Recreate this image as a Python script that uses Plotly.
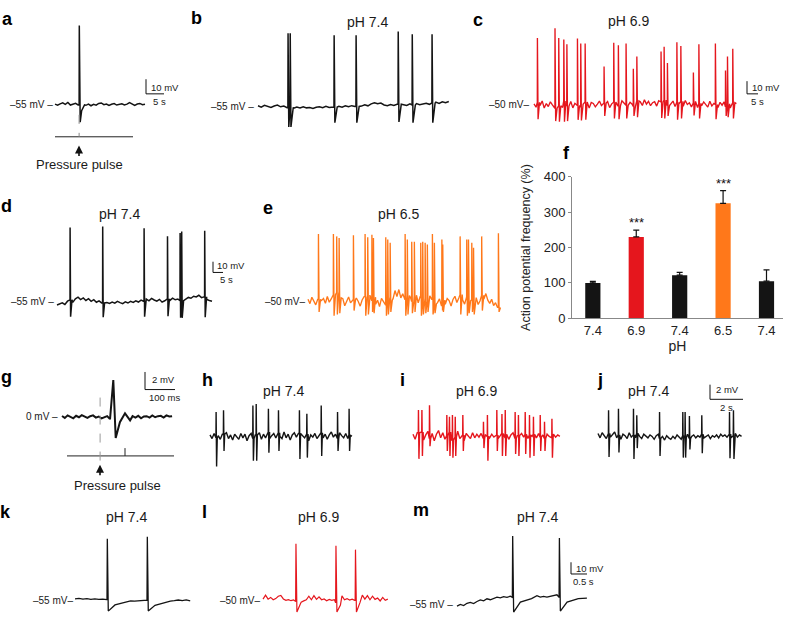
import numpy as np
import plotly.graph_objects as go

W, H = 788, 622
FONT = "Liberation Sans, Arial, Helvetica, sans-serif"
BLACK = "#141414"
RED = "#e5161d"
ORANGE = "#ff781a"

# ---------------- data (time in s, or ms for g; voltage in mV) ----------------
A_DUR, A_REST = 25.0, -55
A_BASE = [0.3,-0.4,0.5,1.2,0.2,1.5,-0.3,0.4,0.9,-0.2,0.6,0.1,-0.5,0.3,-0.8,0.2,-0.4,0.8,
          1.1,-0.1,0.4,-0.6,0.2,0.7,-0.3,0.1,0.6,-0.2,0.3,1.4,0.2,-0.5,0.4,0.8,-0.1,0.3]
A_SPK_T, A_SPK_PEAK, A_SPK_TROUGH = [6.7], [-1.0], [-67.0]
A_PULSE_T = 6.7

B_DUR, B_REST = 53.0, -55
B_BASE = [0.5,-0.4,0.8,0.2,-0.6,0.4,1.0,-0.2,0.3,-0.8,-0.5,-1.2,-0.4,-1.0,-0.2,-0.9,-0.6,-1.3,
          -0.5,-0.2,-0.8,0.1,-0.7,-0.3,-0.9,0.2,-0.4,0.5,-0.2,0.6,0.1,0.9,0.3,1.2,0.5,1.8,2.6,
          1.9,2.4,1.1,0.6,1.4,0.8,1.6,0.4,1.3,0.7,1.8,1.0,2.0,1.2,1.7,2.2,1.5,2.4,3.0,2.1,3.2,2.6,3.4]
B_SPK_T = [8.3, 8.9, 21.1, 27.2, 38.9, 42.8, 48.3]
B_SPK_PEAK = [-5.0, -5.0, -6.3, -6.3, -3.7, -5.7, -5.7]
B_SPK_TROUGH = [-69.0, -69.0, -66.0, -66.0, -65.5, -66.0, -66.0]

C_DUR, C_REST = 92.0, -50
C_BASE = [0.5,-2.1,1.8,-0.6,2.9,-2.7,0.8,-1.5,2.2,-0.3,-2.9,1.6,-0.9,1.1,-2.2,2.7,-1.2,0.3,2.4,-2.6,
          1.0,-0.7,3.1,-1.9,0.2,2.0,-1.1,-2.8,1.7,0.9,-1.8,0.4,2.8,-0.8,1.3,-1.6,2.5,-2.4,0.6,1.9,
          3.4,-0.9,0.7,2.9,1.2,-0.6,3.6,1.8,0.3,-1.4,2.9,1.1,2.2,-0.7,3.8,0.4,2.6,-0.9,1.5,2.3,
          -1.2,3.1,2.0,0.2,3.5,-0.8,1.7,0.6,2.8,-1.6,1.9,0.8,2.6,-1.3,3.2,0.1,1.4,-1.8,1.2,2.5,
          -2.3,1.0,-0.9,2.1,0.3,-2.0,2.6,-1.1,0.9,0.0,-2.4,1.8,-0.5,2.2,-1.7,0.6,-2.6,1.5,-0.4,0.8]
C_SPK_T = [1.5, 9.5, 11.2, 13.5, 14.9, 19.7, 21.2, 23.2, 31.8, 36.2, 38.3, 41.8, 45.1, 46.7,
           57.7, 59.1, 60.6, 64.9, 66.7, 72.4, 74.9, 82.4, 87.0, 87.9, 90.3]
C_SPK_PEAK = [2.5, 10.2, 2.5, 1.3, -2.5, 2.0, -1.8, -1.8, -20.0, -1.3, -3.3, -1.8, -21.8, -12.1,
              -8.2, -4.4, -17.2, -0.8, -3.8, -24.8, -2.5, -1.8, -23.1, -12.1, -5.9]
C_SPK_TROUGH = [-61.5, -63.0, -63.5, -63.5, -63.0, -62.0, -62.5, -62.0, -59.0, -61.0, -61.5, -61.0,
                -59.0, -60.0, -60.5, -61.0, -59.0, -62.0, -61.0, -58.5, -61.0, -61.5, -59.0, -60.0, -61.0]

D_DUR, D_REST = 77.5, -55
D_BASE = [-3.0,-2.2,-1.0,-2.5,0.5,1.8,-0.6,2.7,4.2,2.0,3.5,1.2,2.8,0.4,1.9,-0.5,0.8,-1.1,0.2,-0.8,
          -1.6,-0.4,-1.3,0.3,-0.9,-1.8,-0.2,-1.2,0.4,-0.6,0.9,-0.3,1.5,0.2,2.4,0.8,3.1,1.6,0.5,2.2,
          -0.4,0.9,2.6,1.2,3.4,1.8,2.5,0.9,3.0,2.2,4.0,3.2,5.1,4.4,6.0,3.8,4.6,2.0,1.2,0.5]
D_SPK_T = [6.5, 22.8, 43.5, 55.2, 61.5, 62.3, 73.8]
D_SPK_PEAK = [14.1, 15.0, 13.5, 5.9, 8.9, 10.5, 11.1]
D_SPK_TROUGH = [-69.0, -69.5, -69.0, -68.5, -70.0, -70.0, -69.5]

E_DUR, E_REST = 87.0, -50
E_BASE = [2.0,-1.5,3.5,0.5,-2.5,1.8,-3.6,0.9,2.6,-1.2,4.1,-0.4,2.2,5.5,1.0,7.2,3.1,-1.8,2.4,-3.2,
          0.6,3.8,-0.9,1.7,-2.8,2.9,0.2,-3.5,1.4,4.0,-1.1,2.3,5.2,0.8,3.6,-2.0,1.2,-3.8,2.7,0.4,
          -2.6,3.3,1.1,6.5,2.4,8.8,4.1,9.6,3.0,6.2,1.5,4.8,-1.4,3.4,0.2,5.1,2.6,-0.8,3.9,1.6,
          -2.3,2.8,0.5,4.6,1.9,-1.6,3.0,-0.7,2.2,-3.1,1.3,-2.0,2.5,0.9,-3.4,1.8,4.3,-0.6,2.9,5.6,
          1.4,-1.9,3.7,0.7,-2.7,1.6,-0.4,3.2,-2.2,0.8,5.0,2.1,6.4,1.2,-1.3,2.0,-3.0,-0.8,-4.5,-6.0]
E_SPK_T = [4.7, 11.5, 13.0, 14.1, 20.6, 25.9, 27.1, 29.0, 29.7, 35.3, 36.2, 37.3, 44.1, 45.1, 47.1,
           48.3, 51.2, 52.1, 53.2, 54.2, 56.5, 57.4, 60.8, 61.2, 69.1, 72.1, 72.9, 74.4, 75.2, 78.9, 86.5]
E_SPK_PEAK = [3.3, 3.3, 1.5, 0.2, 2.3, 3.3, 0.8, 2.8, 0.2, 0.8, -1.0, -3.6, 3.3, -1.0, -2.8, -2.8,
              -3.6, -2.8, -3.6, -4.9, 3.3, -3.6, -1.0, -4.9, 1.5, -1.0, -1.0, -3.6, -7.5, 1.5, 4.0]
E_SPK_TROUGH = [-58, -61, -60, -59, -57, -61, -60, -58, -59, -61, -60, -58, -61, -60, -59, -58,
                -61, -60, -59, -58, -60, -59, -57, -58, -60, -61, -59, -58, -60, -57, -58]

F_CATS = ["7.4", "6.9", "7.4", "6.5", "7.4"]
F_VALUES = [100, 230, 122, 325, 105]
F_ERR = [4.6, 19, 8, 36, 32]
F_SIG = ["", "***", "", "***", ""]

G_DUR, G_REST = 367.0, 0.0   # ms, mV
G_BASE = [0.1,-0.12,0.17,0.04,-0.17,0.12,-0.04,0.2,0.0,-0.12,0.08,0.17,-0.08,0.04,-0.17,-0.08,0.08,-0.25,
          -0.08,0.0,0.08,-0.17,0.08,0.0,-0.08,0.08,-0.08,0.12,-0.17,0.04,0.08,-0.08,0.17,-0.04,0.08,0.12,-0.08,
          0.17,0.04,0.08]
G_EV_T = [160, 171, 179, 193, 210, 227]
G_EV_V = [-0.3, 4.2, -2.4, -0.6, 0.4, -0.4]
G_PULSE_T = 127

H_DUR = 8.6
H_BASE = [0.2,-0.3,0.4,-0.2,0.1,-0.4,0.3,-0.1,0.5,-0.3,0.2,-0.5,0.3,0.0,-0.4,0.4,-0.2,0.3,-0.6,0.1,
          0.4,-0.3,0.2,-0.1,0.5,-0.4,0.3,-0.2,0.6,-0.3,0.1,0.4,-0.2,0.5,0.0,-0.3,0.6,-0.2,0.3,-0.5,
          0.2,0.5,-0.1,0.4,-0.4,0.1,-0.2,0.3,-0.6,0.2,-0.1,0.4,-0.3,0.1,0.5,-0.2,0.3,-0.4,0.2,0.6,
          -0.1,0.3,-0.3,0.5,0.1,-0.2,0.4,-0.3,0.2,0.0]
H_SPK_T = [0.36, 0.81, 2.59, 2.79, 3.53, 4.14, 5.41, 5.86, 6.73, 7.72, 8.42]
H_SPK_PEAK = [3.33, 3.56, 4.23, 4.44, 3.77, 3.56, 3.56, 3.1, 4.23, 3.33, 3.77]
H_SPK_TROUGH = [-4.1, -2.0, -3.33, -3.33, -2.23, -2.0, -3.1, -2.9, -2.67, -2.0, -2.0]

I_DUR = 8.9
I_BASE = [0.3,-0.4,0.5,-0.2,0.6,-0.5,0.2,0.7,-0.3,0.4,-0.6,0.3,0.8,-0.2,0.5,-0.4,0.1,0.6,-0.5,0.3,
          -0.1,0.7,-0.3,0.2,-0.6,0.4,0.1,-0.3,0.5,-0.2,0.3,-0.1,0.4,-0.3,0.2,0.0,-0.2,0.3,-0.1,0.2,
          -0.3,0.1,0.4,-0.2,0.3,-0.4,0.2,0.5,-0.3,0.1,-0.2,0.4,-0.1,0.3,-0.3,0.2,0.0,0.3,-0.2,0.4,
          -0.1,0.2,-0.3,0.3,0.0,-0.2,0.3,-0.1,0.2,0.0]
I_SPK_T = [0.32, 0.53, 0.99, 2.04, 2.2, 2.38, 2.55, 3.01, 4.26, 4.5, 5.07, 5.38, 5.58, 6.18, 6.38,
           6.79, 7.05, 7.29, 7.7, 7.96, 8.41]
I_SPK_PEAK = [3.6, 3.6, 4.27, 2.93, 2.67, 2.93, 2.67, 2.93, 2.0, 2.93, 3.6, 3.07, 3.6, 3.33, 2.93,
              3.33, 2.93, 2.67, 2.93, 2.0, 2.4]
I_SPK_TROUGH = [-3.07, -2.67, -1.33, -2.0, -2.67, -2.93, -2.67, -2.0, -1.6, -3.33, -2.0, -2.67,
                -2.67, -2.4, -2.67, -2.4, -2.93, -2.67, -2.0, -2.0, -2.93]

J_DUR = 8.7
J_BASE = [0.4,-0.2,0.5,0.1,-0.3,0.4,-0.1,0.3,0.6,-0.2,0.2,-0.4,0.3,0.1,-0.3,0.5,-0.1,0.2,-0.2,0.4,
          0.0,-0.3,0.3,0.1,-0.2,0.2,0.0,-0.4,0.1,0.3,-0.3,0.0,-0.5,0.1,-0.2,-0.4,0.0,-0.3,0.2,-0.1,
          -0.4,0.1,-0.2,0.3,-0.3,0.0,0.2,-0.2,0.1,-0.1,0.3,-0.2,0.0,0.2,-0.3,0.1,-0.1,0.2,-0.2,0.3,
          0.0,0.2,-0.1,0.3,-0.2,0.1,0.4,-0.1,0.2,0.0]
J_SPK_T = [0.63, 1.23, 2.14, 2.34, 3.72, 5.13, 5.27, 5.53, 6.28, 7.96, 8.2]
J_SPK_PEAK = [3.56, 3.77, 3.77, 2.9, 3.33, 3.33, 3.33, 2.8, 2.9, 3.33, 3.56]
J_SPK_TROUGH = [-2.8, -2.2, -3.1, -1.6, -2.67, -2.9, -2.9, -1.8, -2.3, -3.0, -3.1]

K_DUR, K_REST = 3.6, -55
K_BASE = [1.2,1.6,1.0,1.4,0.9,1.3,0.8,1.1,0.6,-3.0,-2.5,-2.0,-1.5,-1.0,-0.5,-0.6,-0.2,-0.4,0.2,
          -3.0,-2.5,-2.0,-1.5,-1.2,-0.6,-0.2,0.3,-0.3,0.4,-0.5]
K_SPK_T, K_SPK_PEAK, K_SPK_TROUGH = [1.0, 2.25], [-2.5, -0.8], [-64.2, -64.2]

L_DUR, L_REST = 3.9, -50
L_BASE = [1.0,4.5,1.0,2.5,0.5,1.5,3.5,4.2,1.2,0.0,0.6,-0.3,0.4,-1.0,-2.0,-1.5,-0.5,0.5,3.5,0.5,
          4.0,0.8,3.0,0.5,1.2,-0.3,0.8,0.0,0.6,-2.0,-1.0,3.8,0.5,1.5,0.2,1.0,0.0,-2.0,-0.5,4.5,
          1.0,4.0,0.5,3.5,0.8,2.0,-0.5,2.5,0.0,1.0]
L_SPK_T, L_SPK_PEAK, L_SPK_TROUGH = [1.02, 2.27, 2.88], [-1.7, -3.3, -6.7], [-60.0, -60.0, -60.0]

M_DUR, M_REST = 4.06, -55
M_BASE = [-7.5,-6.0,-7.0,-5.0,-4.2,-5.2,-3.5,-2.2,-3.0,-1.2,-2.0,-0.6,0.2,-0.4,0.6,0.0,1.0,0.0,0.0,
          0.0,0.0,0.0,0.0,0.0,1.5,0.2,0.8,0.3,1.0,1.6,2.2,0.0,0.0,0.0,0.0,0.0,0.0,-0.8,-0.3,-0.6]
M_SPK_T, M_SPK_PEAK, M_SPK_TROUGH = [1.73, 3.19], [-2.5, -4.2], [-67.5, -66.7]

# ---------------- layout geometry: x0_px, px per x-unit, baseline_px, px per mV, rest ----------------
GEOM = {
    "a": (55, 3.6, 100, 1.5, A_REST),
    "b": (258, 3.6, 102, 1.5, B_REST),
    "c": (534, 2.2, 100, 1.3, C_REST),
    "d": (57, 2.0, 302, 1.1, D_REST),
    "e": (308, 2.2, 302, 1.3, E_REST),
    "g": (62, 0.3, 420, 9.0, G_REST),
    "h": (210, 16.5, 440, 7.5, 0.0),
    "i": (413, 16.5, 440, 7.5, 0.0),
    "j": (598, 16.5, 440, 7.5, 0.0),
    "k": (75, 32.0, 608, 1.2, K_REST),
    "l": (263, 32.0, 608, 1.2, L_REST),
    "m": (457, 32.0, 605, 1.2, M_REST),
}
ORDER = ["a", "b", "c", "d", "e", "g", "h", "i", "j", "k", "l", "m"]
IDX = {p: i + 1 for i, p in enumerate(ORDER)}
F_IDX = 13


def axname(i, kind):
    return kind if i == 1 else f"{kind}{i}"


def px2data(p, px, py):
    x0, sx, yb, sy, rest = GEOM[p]
    return (px - x0) / sx, rest + (yb - py) / sy


def build_trace(dur, base, rest, spk_t, spk_pk, spk_tr, d_pk, d_tr, after):
    ts = np.linspace(0, dur, len(base))
    win = max(a[0] for a in after)
    pts = []
    for t, v in zip(ts, base):
        if any(s - 1e-9 <= t <= s + win for s in spk_t):
            continue
        pts.append((t, rest + v))
    for k, s in enumerate(spk_t):
        i = int(np.argmin(np.abs(ts - s)))
        b = rest + base[i]
        nxt = spk_t[k + 1] if k + 1 < len(spk_t) else np.inf
        cand = [(s, b), (s + d_pk, spk_pk[k]), (s + d_tr, spk_tr[k])] + \
               [(s + dt, b + dv) for dt, dv in after]
        pts += [q for q in cand if q[0] < nxt - 1e-9]
    pts.sort()
    return [q[0] for q in pts], [q[1] for q in pts]


fig = go.Figure()
layout = {}

for p in ORDER:
    i = IDX[p]
    x0, sx, yb, sy, rest = GEOM[p]
    layout[axname(i, "xaxis")] = dict(domain=[0, 1], range=[-x0 / sx, (W - x0) / sx], visible=False,
                                      fixedrange=True, anchor=axname(i, "y"))
    layout[axname(i, "yaxis")] = dict(domain=[0, 1], range=[rest - (H - yb) / sy, rest + yb / sy],
                                      visible=False, fixedrange=True, anchor=axname(i, "x"))

TRACES = {
    "a": (A_DUR, A_BASE, A_REST, A_SPK_T, A_SPK_PEAK, A_SPK_TROUGH, 0.05, 0.3, [(0.7, -4.0), (1.5, 0.0)], BLACK, 1.5),
    "b": (B_DUR, B_BASE, B_REST, B_SPK_T, B_SPK_PEAK, B_SPK_TROUGH, 0.05, 0.25, [(0.9, 0.0)], BLACK, 1.5),
    "c": (C_DUR, C_BASE, C_REST, C_SPK_T, C_SPK_PEAK, C_SPK_TROUGH, 0.05, 0.35, [(1.0, 0.0)], RED, 1.35),
    "d": (D_DUR, D_BASE, D_REST, D_SPK_T, D_SPK_PEAK, D_SPK_TROUGH, 0.05, 0.3, [(1.0, 0.0)], BLACK, 1.5),
    "e": (E_DUR, E_BASE, E_REST, E_SPK_T, E_SPK_PEAK, E_SPK_TROUGH, 0.05, 0.35, [(1.0, 0.0)], ORANGE, 1.35),
    "h": (H_DUR, H_BASE, 0.0, H_SPK_T, H_SPK_PEAK, H_SPK_TROUGH, 0.01, 0.04, [(0.08, 0.0)], BLACK, 1.4),
    "i": (I_DUR, I_BASE, 0.0, I_SPK_T, I_SPK_PEAK, I_SPK_TROUGH, 0.01, 0.04, [(0.08, 0.0)], RED, 1.4),
    "j": (J_DUR, J_BASE, 0.0, J_SPK_T, J_SPK_PEAK, J_SPK_TROUGH, 0.01, 0.04, [(0.08, 0.0)], BLACK, 1.4),
    "k": (K_DUR, K_BASE, K_REST, K_SPK_T, K_SPK_PEAK, K_SPK_TROUGH, 0.01, 0.04, [(0.25, -4.5), (0.6, -2.0)], BLACK, 1.3),
    "l": (L_DUR, L_BASE, L_REST, L_SPK_T, L_SPK_PEAK, L_SPK_TROUGH, 0.01, 0.04, [(0.15, -2.0)], RED, 1.2),
    "m": (M_DUR, M_BASE, M_REST, M_SPK_T, M_SPK_PEAK, M_SPK_TROUGH, 0.01, 0.04, [(0.25, -4.0), (0.6, -1.0)], BLACK, 1.3),
}
for p, (dur, base, rest, st, sp, str_, dpk, dtr, after, col, lw) in TRACES.items():
    x, y = build_trace(dur, base, rest, st, sp, str_, dpk, dtr, after)
    i = IDX[p]
    fig.add_trace(go.Scatter(x=x, y=y, mode="lines", line=dict(color=col, width=lw),
                             xaxis=axname(i, "x"), yaxis=axname(i, "y"), hoverinfo="skip"))

# panel g: evoked field response
gt = np.linspace(0, G_DUR, len(G_BASE))
gpts = [(t, G_REST + v) for t, v in zip(gt, G_BASE) if not (G_EV_T[0] <= t <= G_EV_T[-1] + 8)]
gpts += list(zip(G_EV_T, [G_REST + v for v in G_EV_V]))
gpts.sort()
fig.add_trace(go.Scatter(x=[q[0] for q in gpts], y=[q[1] for q in gpts], mode="lines",
                         line=dict(color=BLACK, width=2.0), xaxis=axname(IDX["g"], "x"),
                         yaxis=axname(IDX["g"], "y"), hoverinfo="skip"))

# panel f: bar chart
fcols = [BLACK, RED, BLACK, ORANGE, BLACK]
fig.add_trace(go.Bar(x=list(range(len(F_CATS))), y=F_VALUES, width=0.35, marker=dict(color=fcols, line=dict(width=0)),
                     error_y=dict(type="data", array=F_ERR, arrayminus=[0] * len(F_ERR), symmetric=False,
                                  color="#111", thickness=1.2, width=3),
                     xaxis=axname(F_IDX, "x"), yaxis=axname(F_IDX, "y"), hoverinfo="skip"))
layout[axname(F_IDX, "xaxis")] = dict(domain=[572 / W, 783 / W], range=[-0.48, 4.38], anchor=axname(F_IDX, "y"),
                                      tickmode="array", tickvals=list(range(len(F_CATS))), ticktext=F_CATS,
                                      showline=True, linecolor="#888", linewidth=1, ticks="",
                                      tickfont=dict(size=13, color="#222", family=FONT), showgrid=False,
                                      zeroline=False, fixedrange=True,
                                      title=dict(text="pH", font=dict(size=14, color="#222", family=FONT), standoff=4))
layout[axname(F_IDX, "yaxis")] = dict(domain=[1 - 319 / H, 1 - 174 / H], range=[0, 400], anchor=axname(F_IDX, "x"),
                                      tickvals=[0, 100, 200, 300, 400], ticks="outside", ticklen=3, tickcolor="#888",
                                      showline=True, linecolor="#888", linewidth=1, showgrid=False, zeroline=False,
                                      tickfont=dict(size=13, color="#222", family=FONT), fixedrange=True,
                                      title=dict(text="Action potential frequency (%)",
                                                 font=dict(size=12.5, color="#222", family=FONT), standoff=10))

annotations = []
shapes = []


def ann(text, px, py, size, xanchor="center", bold=False, color="#1a1a1a"):
    annotations.append(dict(text=f"<b>{text}</b>" if bold else text, x=px / W, y=1 - py / H, xref="paper",
                            yref="paper", xanchor=xanchor, yanchor="middle", showarrow=False,
                            font=dict(size=size, color=color, family=FONT)))


for t, x, y in [("a", 7, 12), ("b", 196, 11), ("c", 478, 13), ("d", 6, 204), ("e", 268, 206),
                ("f", 566, 150), ("g", 6, 379), ("h", 207, 382), ("i", 403, 382), ("j", 600, 382),
                ("k", 5, 517), ("l", 205, 517), ("m", 421, 515)]:
    ann(t, x, y, 18, bold=True, color="#000")

for t, x, y in [("pH 7.4", 367, 15), ("pH 6.9", 628, 14), ("pH 7.4", 119, 212), ("pH 6.5", 398, 212),
                ("pH 7.4", 283, 393), ("pH 6.9", 476, 393), ("pH 7.4", 648, 393),
                ("pH 7.4", 126, 523), ("pH 6.9", 318, 523), ("pH 7.4", 537, 523)]:
    ann(t, x, y, 14)

for t, x, y in [("–55 mV –", 55, 100), ("–55 mV –", 256, 102), ("–50 mV–", 531, 100),
                ("–55 mV –", 56, 302), ("–50 mV–", 307, 302), ("0 mV –", 60, 420),
                ("–55 mV–", 75, 608), ("–50 mV–", 262, 608), ("–55 mV –", 455, 612)]:
    ann(t, x, y, 10, xanchor="right")


def scalebar(p, cx, cy, dx, dy, tlabel, vlabel, vpos, tpos):
    i = IDX[p]
    t, v = px2data(p, cx, cy)
    xr, yr = axname(i, "x"), axname(i, "y")
    shapes.append(dict(type="line", xref=xr, yref=yr, x0=t, y0=v, x1=t, y1=v + dy, line=dict(color="#111", width=1)))
    shapes.append(dict(type="line", xref=xr, yref=yr, x0=t, y0=v, x1=t + dx, y1=v, line=dict(color="#111", width=1)))
    ann(vlabel, vpos[0], vpos[1], 9.5, xanchor="left")
    ann(tlabel, tpos[0], tpos[1], 9.5)


scalebar("a", 146, 89, 5, 10, "5 s", "10 mV", (149, 82), (159, 97))
scalebar("c", 747, 89, 5, 10, "5 s", "10 mV", (750, 82), (757, 97))
scalebar("d", 213, 272, 5, 10, "5 s", "10 mV", (215, 265), (226, 279))
scalebar("g", 145, 392, 100, 2, "100 ms", "2 mV", (150, 382), (164, 400))
scalebar("j", 710, 402, 2, 2, "2 s", "2 mV", (714, 392), (726, 410))
scalebar("m", 571, 581, 0.5, 10, "0.5 s", "10 mV", (574, 575), (583, 589))

# pressure pulse markers
shapes.append(dict(type="line", xref="paper", yref="paper", x0=55 / W, x1=133 / W, y0=1 - 133 / H, y1=1 - 133 / H,
                   line=dict(color="#222", width=1)))
shapes.append(dict(type="line", xref=axname(IDX["a"], "x"), yref=axname(IDX["a"], "y"), x0=A_PULSE_T, x1=A_PULSE_T,
                   y0=-62, y1=-77, line=dict(color="#888", width=1, dash="dash")))
shapes.append(dict(type="line", xref="paper", yref="paper", x0=67 / W, x1=174 / W, y0=1 - 460 / H, y1=1 - 460 / H,
                   line=dict(color="#222", width=1)))
shapes.append(dict(type="line", xref="paper", yref="paper", x0=125 / W, x1=125 / W, y0=1 - 460 / H, y1=1 - 452 / H,
                   line=dict(color="#222", width=1)))
shapes.append(dict(type="line", xref=axname(IDX["g"], "x"), yref=axname(IDX["g"], "y"), x0=G_PULSE_T, x1=G_PULSE_T,
                   y0=2.2, y1=-5.2, line=dict(color="#999", width=1, dash="dash")))

for hx, hy, tx, ty in [(79, 142, 79, 161), (100, 469, 117, 490)]:
    annotations.append(dict(text="", x=hx / W, y=1 - hy / H, xref="paper", yref="paper",
                            ax=0, ay=12, showarrow=True, arrowhead=2, arrowsize=1, arrowwidth=1.6,
                            arrowcolor="#111"))
    ann("Pressure pulse", tx, ty, 13)

for k, s in enumerate(F_SIG):
    if s:
        annotations.append(dict(text=s, x=k, y=F_VALUES[k] + F_ERR[k] + 21, xref=axname(F_IDX, "x"),
                                yref=axname(F_IDX, "y"), showarrow=False, yanchor="middle",
                                font=dict(size=13, color="#111", family=FONT)))

fig.update_layout(width=W, height=H, margin=dict(l=0, r=0, t=0, b=0), showlegend=False,
                  paper_bgcolor="white", plot_bgcolor="rgba(0,0,0,0)", annotations=annotations, shapes=shapes,
                  font=dict(family=FONT), **layout)
fig.write_html("out.html", config={"displayModeBar": False, "staticPlot": True},
               post_script="document.body.style.margin='0';document.body.style.overflow='hidden';")
